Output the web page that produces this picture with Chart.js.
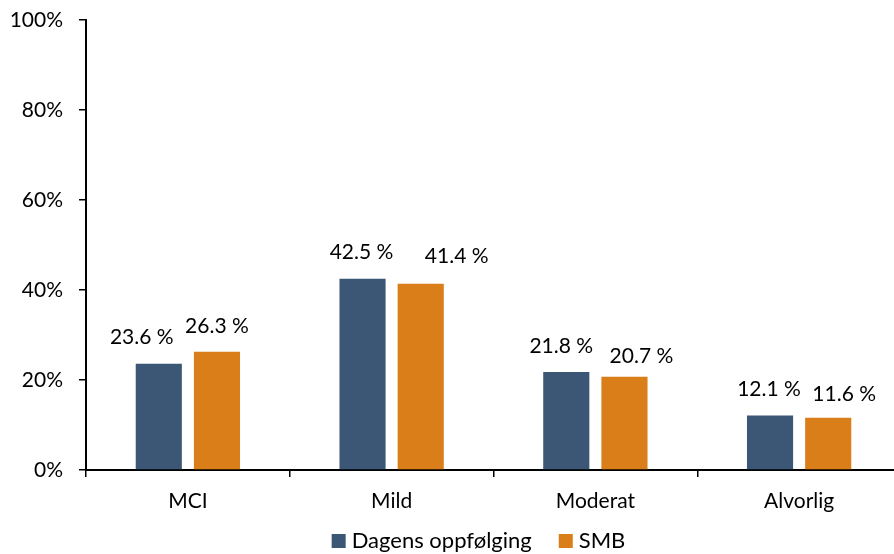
<!DOCTYPE html>
<html>
<head>
<meta charset="utf-8">
<script src="https://cdn.jsdelivr.net/npm/chart.js@4.4.1/dist/chart.umd.min.js"></script>
<style>
  html, body { margin: 0; padding: 0; background: #fff; overflow: hidden; }
  #wrap { width: 902px; height: 554px; }
</style>
</head>
<body>
<div id="wrap"><canvas id="c" width="902" height="554"></canvas></div>
<script>
const categories = ['MCI', 'Mild', 'Moderat', 'Alvorlig'];
const dagens = [23.6, 42.5, 21.8, 12.1];
const smb = [26.3, 41.4, 20.7, 11.6];
const seriesNames = ['Dagens oppfølging', 'SMB'];
const yTicks = [0, 20, 40, 60, 80, 100];

// nudges for the value labels (px), per series and category
const labelDx = [[-17, -1, -5, -1], [0, 36, 17, 16]];
const labelDy = [[-1, -1, 0, 0], [1, -1, 5, 2]];

const FONT = 'Lato, "Open Sans", sans-serif';
const BLUE = '#3b5775';
const ORANGE = '#d97e19';

const valueLabels = {
  id: 'valueLabels',
  afterDatasetsDraw(chart) {
    const ctx = chart.ctx;
    ctx.save();
    ctx.font = '21px ' + FONT;
    ctx.fillStyle = '#000';
    ctx.textAlign = 'center';
    ctx.textBaseline = 'middle';
    chart.data.datasets.forEach((ds, di) => {
      chart.getDatasetMeta(di).data.forEach((bar, i) => {
        const txt = ds.data[i].toFixed(1) + ' %';
        ctx.fillText(txt, bar.x + labelDx[di][i], bar.y - 26 + labelDy[di][i]);
      });
    });
    ctx.restore();
  }
};

// legend row under the category labels
const bottomLegend = {
  id: 'bottomLegend',
  afterDraw(chart) {
    const ctx = chart.ctx;
    const box = 14, gapText = 6, gapItem = 27;
    const cy = 541;
    ctx.save();
    ctx.font = '22px ' + FONT;
    ctx.textBaseline = 'middle';
    ctx.textAlign = 'left';
    const items = chart.data.datasets.map(ds => ({
      label: ds.label, color: ds.backgroundColor, w: ctx.measureText(ds.label).width
    }));
    const total = items.reduce((s, it) => s + box + gapText + it.w, 0) + gapItem * (items.length - 1);
    let x = 478.5 - total / 2;
    items.forEach(it => {
      ctx.fillStyle = it.color;
      ctx.fillRect(x, cy - box / 2, box, box);
      ctx.fillStyle = '#000';
      ctx.fillText(it.label, x + box + gapText, cy);
      x += box + gapText + it.w + gapItem;
    });
    ctx.restore();
  }
};

new Chart(document.getElementById('c'), {
  type: 'bar',
  data: {
    labels: categories,
    datasets: [
      { label: seriesNames[0], data: dagens, backgroundColor: BLUE },
      { label: seriesNames[1], data: smb, backgroundColor: ORANGE }
    ]
  },
  options: {
    responsive: false,
    animation: false,
    events: [],
    layout: { padding: { top: 20, right: 1, left: 0, bottom: 34 } },
    datasets: { bar: { categoryPercentage: 0.571, barPercentage: 0.793 } },
    plugins: {
      legend: { display: false },
      tooltip: { enabled: false }
    },
    scales: {
      x: {
        grid: { offset: true, drawOnChartArea: false, color: '#000', lineWidth: 1.5, tickLength: 7 },
        border: { color: '#000', width: 2 },
        ticks: { font: { family: FONT, size: 21 }, color: '#000', padding: 12 },
        afterFit(s) { s.height = 50; s.paddingLeft = 0; s.paddingRight = 0; }
      },
      y: {
        min: 0, max: 100,
        afterBuildTicks(s) { s.ticks = yTicks.map(v => ({ value: v })); },
        grid: { drawOnChartArea: false, color: '#000', lineWidth: 1.5, tickLength: 7 },
        border: { color: '#000', width: 2 },
        ticks: { font: { family: FONT, size: 21 }, color: '#000', padding: 16, callback: v => v + '%' },
        afterFit(s) { s.width = 86; s.paddingTop = 0; s.paddingBottom = 0; }
      }
    }
  },
  plugins: [valueLabels, bottomLegend]
});
</script>
</body>
</html>
